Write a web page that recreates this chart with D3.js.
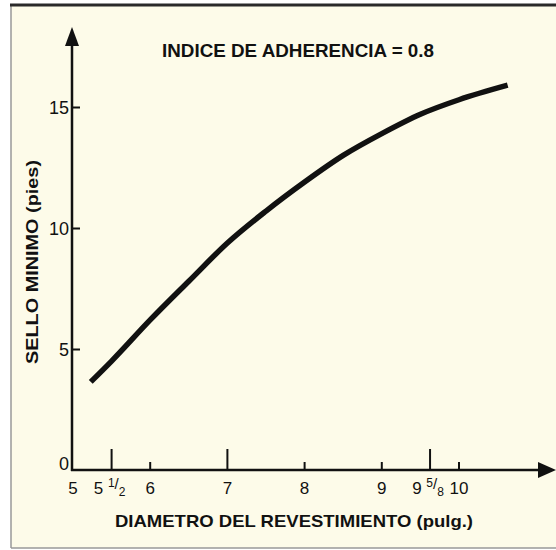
<!DOCTYPE html>
<html>
<head>
<meta charset="utf-8">
<script src="https://cdn.jsdelivr.net/npm/d3@7"></script>
<style>
  body { margin: 0; background: #fff; }
  text { font-family: 'Liberation Sans', Arial, sans-serif; fill: #111; }
</style>
</head>
<body>
<div id="chart"></div>
<script>
// Curve: casing diameter (in) vs minimum seal (ft)
var diametros = [5.23, 5.5, 6, 6.5, 7, 7.5, 8, 8.5, 9, 9.5, 10, 10.63]
var sellos = [3.64, 4.5, 6.2, 7.8, 9.38, 10.7, 11.9, 13.0, 13.9, 14.7, 15.3, 15.9]

// X ticks: value, label parts, tall or short mark
var xTickValues = [5, 5.5, 6, 7, 8, 9, 9.625, 10]
var xTickLabels = [['5'], ['5 ', '1', '/', '2'], ['6'], ['7'], ['8'], ['9'], ['9 ', '5', '/', '8'], ['10']]
var xTickTall = [false, true, false, true, false, false, true, false]
var yTickValues = [0, 5, 10, 15]

var titulo = 'INDICE DE ADHERENCIA = 0.8'
var xTitulo = 'DIAMETRO DEL REVESTIMIENTO (pulg.)'
var yTitulo = 'SELLO MINIMO (pies)'

var width = 556
var height = 550

var svg = d3.select('#chart').append('svg')
  .attr('width', width)
  .attr('height', height)

// Paper background and frame
svg.append('rect')
  .attr('x', 11).attr('y', 5)
  .attr('width', width - 11).attr('height', 543)
  .style('fill', '#fdfbe9')
svg.append('line')
  .attr('x1', 11).attr('x2', 11).attr('y1', 5).attr('y2', 548)
  .style('stroke', '#999').style('stroke-width', 1.5)
svg.append('line')
  .attr('x1', 11).attr('x2', width).attr('y1', 548).attr('y2', 548)
  .style('stroke', '#999').style('stroke-width', 1.5)
svg.append('line')
  .attr('x1', 10).attr('x2', width).attr('y1', 5).attr('y2', 5)
  .style('stroke', '#2a2a2a').style('stroke-width', 3)

// Scales
var x = d3.scaleLinear().domain([5, 10]).range([73, 459])
var y = d3.scaleLinear().domain([0, 15]).range([470, 107])

var x0 = 72
var y0 = y(0)

// Axis lines with arrowheads
svg.append('line')
  .attr('x1', x0).attr('x2', x0).attr('y1', y0 + 1).attr('y2', 40)
  .style('stroke', '#111').style('stroke-width', 2.5)
svg.append('path')
  .attr('d', 'M' + x0 + ',27 L' + (x0 - 7) + ',46 L' + (x0 + 7) + ',46 Z')
  .style('fill', '#111')
svg.append('line')
  .attr('x1', x0 - 1).attr('x2', 545).attr('y1', y0).attr('y2', y0)
  .style('stroke', '#111').style('stroke-width', 2.5)
svg.append('path')
  .attr('d', 'M556,' + y0 + ' L538,' + (y0 - 8) + ' L538,' + (y0 + 8) + ' Z')
  .style('fill', '#111')

// Y axis ticks (drawn to the right of the axis)
var yAxis = d3.axisLeft(y)
  .tickValues(yTickValues)
  .tickSizeInner(-8)
  .tickSizeOuter(0)
  .tickPadding(3)
  .tickFormat(d3.format('d'))

var gy = svg.append('g')
  .attr('transform', 'translate(' + x0 + ',0)')
  .call(yAxis)
gy.select('.domain').remove()
gy.selectAll('.tick line')
  .style('stroke', '#111').style('stroke-width', 2)
  .attr('x2', function (d) { return d === 0 ? 0 : 8 })
gy.selectAll('.tick text')
  .attr('dy', function (d) { return d === 0 ? '-0.02em' : '0.36em' })
  .style('font-size', '18px')
  .style('font-family', "'Liberation Sans', Arial, sans-serif")
  .style('fill', '#111')

// X axis ticks (drawn upward)
var gx = svg.append('g')
gx.selectAll('.xtick')
  .data(xTickValues)
  .enter().append('line')
  .attr('class', 'xtick')
  .attr('x1', function (d) { return x(d) })
  .attr('x2', function (d) { return x(d) })
  .attr('y1', y0)
  .attr('y2', function (d, i) { return d === 5 ? y0 : (xTickTall[i] ? y0 - 21 : y0 - 8) })
  .style('stroke', '#111').style('stroke-width', 2)

// X labels, fractions as super / subscript
var xl = gx.selectAll('.xlabel')
  .data(xTickValues)
  .enter().append('text')
  .attr('class', 'xlabel')
  .attr('x', function (d, i) { return x(d) + (xTickLabels[i].length > 1 ? -2 : 0) })
  .attr('y', y0 + 24)
  .attr('text-anchor', 'middle')
  .style('font-size', '17px')

xl.each(function (d, i) {
  var parts = xTickLabels[i]
  var t = d3.select(this)
  if (parts.length === 1) {
    t.text(parts[0])
    return
  }
  t.append('tspan').text(parts[0])
  t.append('tspan').text(parts[1]).attr('dy', -7).style('font-size', '12px')
  t.append('tspan').text(parts[2]).attr('dy', 2).style('font-size', '15px')
  t.append('tspan').text(parts[3]).attr('dy', 7).style('font-size', '12px')
})

// Curve
var line = d3.line()
  .x(function (d, i) { return x(diametros[i]) })
  .y(function (d) { return y(d) })
  .curve(d3.curveMonotoneX)

svg.append('path')
  .datum(sellos)
  .attr('d', line)
  .style('fill', 'none')
  .style('stroke', '#111')
  .style('stroke-width', 5.5)
  .style('stroke-linecap', 'butt')

// Titles
svg.append('text')
  .attr('x', 298).attr('y', 57)
  .attr('text-anchor', 'middle')
  .style('font-size', '18px')
  .style('font-weight', 'bold')
  .attr('textLength', 272)
  .attr('lengthAdjust', 'spacingAndGlyphs')
  .text(titulo)

svg.append('text')
  .attr('x', 294).attr('y', 527)
  .attr('text-anchor', 'middle')
  .style('font-size', '17px')
  .style('font-weight', 'bold')
  .attr('textLength', 358)
  .attr('lengthAdjust', 'spacingAndGlyphs')
  .text(xTitulo)

svg.append('text')
  .attr('transform', 'translate(38,262) rotate(-90)')
  .attr('text-anchor', 'middle')
  .style('font-size', '16px')
  .style('font-weight', 'bold')
  .attr('textLength', 204)
  .attr('lengthAdjust', 'spacingAndGlyphs')
  .text(yTitulo)
</script>
</body>
</html>
